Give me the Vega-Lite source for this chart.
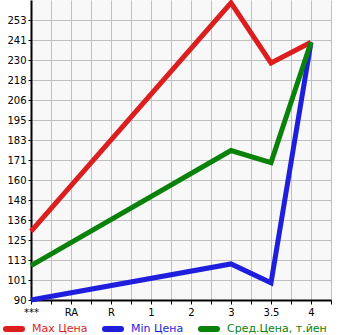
{
  "$schema": "https://vega.github.io/schema/vega-lite/v6.json",
  "width": 300,
  "height": 300,
  "autosize": {"type": "none"},
  "padding": {"left": 31, "top": 0, "right": 14, "bottom": 35},
  "background": "#ffffff",
  "config": {
    "view": {"fill": "#f8f8f8", "stroke": null},
    "font": "DejaVu Sans"
  },
  "data": {
    "values": [
      {"series": "Max Цена", "x": 0, "cat": "***", "price": 130},
      {"series": "Max Цена", "x": 5, "cat": "3", "price": 263},
      {"series": "Max Цена", "x": 6, "cat": "3.5", "price": 228},
      {"series": "Max Цена", "x": 7, "cat": "4", "price": 240},
      {"series": "Min Цена", "x": 0, "cat": "***", "price": 90},
      {"series": "Min Цена", "x": 5, "cat": "3", "price": 111},
      {"series": "Min Цена", "x": 6, "cat": "3.5", "price": 100},
      {"series": "Min Цена", "x": 7, "cat": "4", "price": 240},
      {"series": "Сред.Цена, т.йен", "x": 0, "cat": "***", "price": 110},
      {"series": "Сред.Цена, т.йен", "x": 5, "cat": "3", "price": 177},
      {"series": "Сред.Цена, т.йен", "x": 6, "cat": "3.5", "price": 170},
      {"series": "Сред.Цена, т.йен", "x": 7, "cat": "4", "price": 240}
    ]
  },
  "mark": {"type": "line", "strokeWidth": 5, "clip": false},
  "encoding": {
    "x": {
      "field": "x",
      "type": "quantitative",
      "scale": {"domain": [0, 7.5], "nice": false, "zero": false},
      "axis": {
        "title": null,
        "values": [0, 0.5, 1, 1.5, 2, 2.5, 3, 3.5, 4, 4.5, 5, 5.5, 6, 6.5, 7, 7.5],
        "labelExpr": "datum.value % 1 == 0 ? ['***','RA','R','1','2','3','3.5','4'][datum.value] : ''",
        "grid": true,
        "gridColor": "#c0c0c0",
        "gridWidth": 1,
        "gridOpacity": 1,
        "domainColor": "#000000",
        "domainWidth": 2,
        "tickColor": "#000000",
        "tickSize": 4,
        "tickWidth": 1,
        "labelFontSize": 10,
        "labelColor": "#000000",
        "labelPadding": 3,
        "labelFlush": false,
        "labelOverlap": false
      }
    },
    "y": {
      "field": "price",
      "type": "quantitative",
      "scale": {"domain": [90, 264.642857], "nice": false, "zero": false},
      "axis": {
        "title": null,
        "values": [90, 101.642857, 113.285714, 124.928571, 136.571429, 148.214286, 159.857143, 171.5, 183.142857, 194.785714, 206.428571, 218.071429, 229.714286, 241.357143, 253],
        "labelExpr": "['90','101','113','125','136','148','160','171','183','195','206','218','230','241','253'][round((datum.value-90)/11.642857)]",
        "grid": true,
        "gridColor": "#c0c0c0",
        "gridWidth": 1,
        "gridOpacity": 1,
        "domainColor": "#000000",
        "domainWidth": 2,
        "tickColor": "#000000",
        "tickSize": 3,
        "tickWidth": 1,
        "labelFontSize": 10,
        "labelColor": "#000000",
        "labelPadding": 2,
        "labelFlush": false,
        "labelOverlap": false
      }
    },
    "color": {
      "field": "series",
      "type": "nominal",
      "scale": {
        "domain": ["Max Цена", "Min Цена", "Сред.Цена, т.йен"],
        "range": ["#dc1e1e", "#1e1edc", "#0a820a"]
      },
      "legend": {
        "title": null,
        "orient": "none",
        "direction": "horizontal",
        "legendX": -28,
        "legendY": 318,
        "padding": 0,
        "symbolType": "stroke",
        "symbolSize": 256,
        "symbolStrokeWidth": 6,
        "labelFontSize": 11,
        "labelOffset": 7,
        "columnPadding": 5,
        "labelLimit": 200,
        "encode": {
          "labels": {"update": {"fill": {"scale": "color", "field": "value"}}},
          "symbols": {"update": {"strokeCap": {"value": "round"}}}
        }
      }
    }
  }
}
